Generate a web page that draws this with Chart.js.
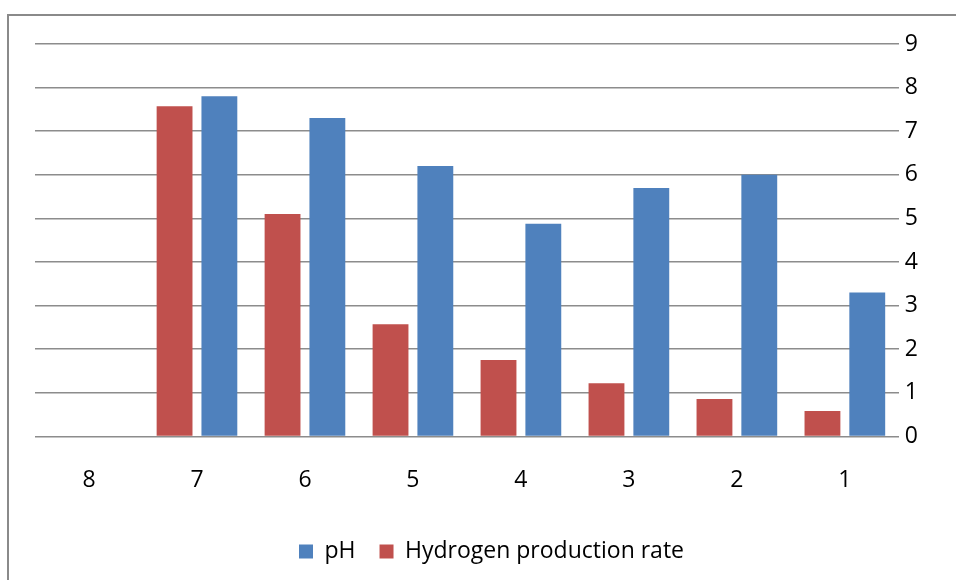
<!DOCTYPE html>
<html>
<head>
<meta charset="utf-8">
<script src="https://cdn.jsdelivr.net/npm/chart.js@4"></script>
<style>
  body { margin: 0; background: #fff; }
  #wrap { position: relative; width: 956px; height: 580px; }
  #frame { position: absolute; left: 7px; top: 14px; width: 960px; height: 580px; border: 2px solid #8a8a8a; box-sizing: border-box; }
  canvas { position: absolute; left: 0; top: 0; }
</style>
</head>
<body>
<div id="wrap">
  <div id="frame"></div>
  <canvas id="myChart" width="956" height="580"></canvas>
</div>
<script>
  const categories = ['8', '7', '6', '5', '4', '3', '2', '1'];
  const hydrogenRate = [null, 7.57, 5.1, 2.57, 1.75, 1.22, 0.86, 0.58];
  const phValues = [null, 7.8, 7.3, 6.2, 4.88, 5.7, 6.0, 3.3];
  const yTicks = [0, 1, 2, 3, 4, 5, 6, 7, 8, 9];

  // nudge the legend a bit right, like the original
  const legendShift = {
    id: 'legendShift',
    afterLayout(chart) {
      chart.legend.left += 12;
      chart.legend.right += 12;
    }
  };

  window.addEventListener('load', setup);
  function setup() {
    const ctx = document.getElementById('myChart').getContext('2d');
    new Chart(ctx, {
      type: 'bar',
      data: {
        labels: categories,
        datasets: [
          {
            label: 'Hydrogen production rate',
            data: hydrogenRate,
            backgroundColor: '#c0504d',
            barPercentage: 0.8,
            categoryPercentage: 0.83
          },
          {
            label: 'pH',
            data: phValues,
            backgroundColor: '#4f81bd',
            barPercentage: 0.8,
            categoryPercentage: 0.83
          }
        ]
      },
      plugins: [legendShift],
      options: {
        responsive: false,
        animation: false,
        layout: { padding: { left: 35, top: 44, right: 32, bottom: 7 } },
        plugins: {
          tooltip: { enabled: false },
          legend: {
            position: 'bottom',
            reverse: true,
            labels: {
              boxWidth: 14,
              boxHeight: 14,
              padding: 24,
              color: '#000',
              font: { family: 'Open Sans', size: 23 }
            }
          }
        },
        scales: {
          x: {
            grid: { display: false },
            border: { display: false },
            ticks: { color: '#000', padding: 22, font: { family: 'Open Sans', size: 23 } }
          },
          y: {
            position: 'right',
            min: 0,
            max: 9,
            afterBuildTicks: axis => { axis.ticks = yTicks.map(v => ({ value: v })); },
            grid: { color: '#8c8c8c', lineWidth: 1.5, drawTicks: false },
            border: { display: false },
            ticks: { color: '#000', padding: 6, font: { family: 'Open Sans', size: 23 } }
          }
        }
      }
    });
  }
</script>
</body>
</html>
